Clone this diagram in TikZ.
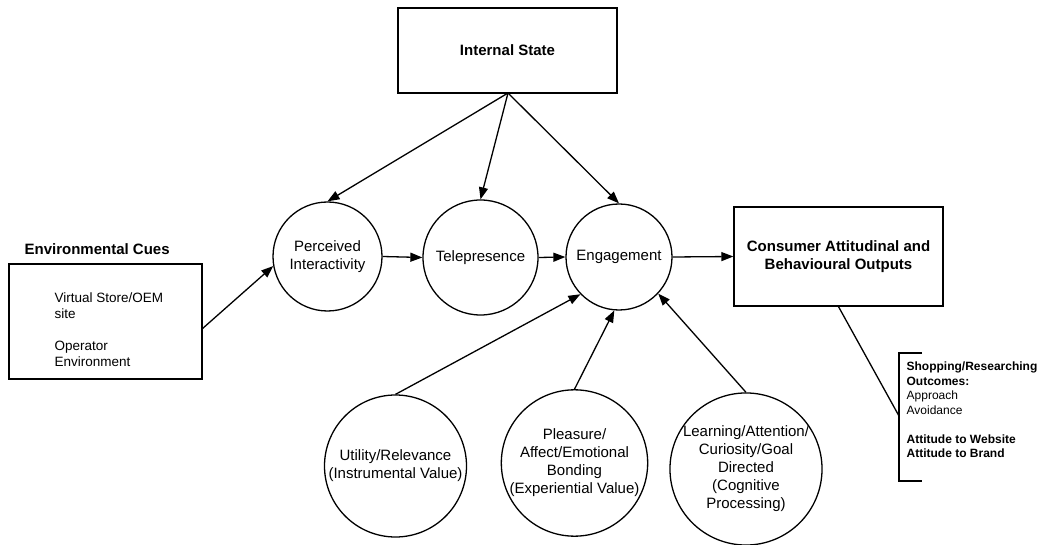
\documentclass[tikz,border=0pt]{standalone}
\usepackage{fontspec}
\setmainfont{Liberation Sans}
\usetikzlibrary{arrows.meta}
\begin{document}
\begin{tikzpicture}[x=1pt,y=-1pt,
  line width=1.3pt,
  fbig/.style={font=\fontsize{15}{18}\selectfont},
  box/.style={draw,rectangle,inner sep=0pt,fbig,align=center},
  circ/.style={draw,circle,inner sep=0pt,fbig,align=center},
  arr/.style={-{Triangle[length=12pt,width=9pt]}}
]
\useasboundingbox (0,0) rectangle (1042,545);
% boxes
\node[box,minimum width=219pt,minimum height=85pt] (int) at (507.5,50.5) {\bfseries Internal State};
\node[box,minimum width=209pt,minimum height=99pt] (cons) at (838.5,256.5) {\bfseries Consumer Attitudinal and\\\bfseries Behavioural Outputs};
\node[box,minimum width=193pt,minimum height=115pt] (env) at (105.5,321.5) {};
\node[fbig,anchor=west,inner sep=0pt] (envt) at (24,249) {\bfseries Environmental Cues};
\node[anchor=west,inner sep=0pt,align=left,font=\fontsize{13.5}{16}\selectfont] (envin) at (54,330) {Virtual Store/OEM\\site\\[16pt]Operator\\Environment};
% circles
\node[circ,minimum size=109pt] (per) at (327.5,256.5) {Perceived\\Interactivity};
\node[circ,minimum size=115pt] (tel) at (480.5,257.5) {Telepresence};
\node[circ,minimum size=106pt] (eng) at (619,257) {Engagement};
\node[circ,minimum size=142pt] (uti) at (395.5,466) {Utility/Relevance\\(Instrumental Value)};
\node[circ,minimum size=145pt] (ple) at (574.5,463) {Pleasure/\\Affect/Emotional\\Bonding\\(Experiential Value)};
\node[circ,minimum size=152pt] (lea) at (746,469) {Learning/Attention/\\Curiosity/Goal\\Directed\\(Cognitive\\Processing)};
% arrows from internal state
\coordinate (intb) at (508,93);
\draw[arr] (intb) -- (per.north);
\draw[arr] (intb) -- (tel.north);
\draw[arr] (intb) -- (eng.north);
% chain
\draw[arr] (per.east) -- (tel.west);
\draw[arr] (tel.east) -- (eng.west);
\draw[arr] (eng.east) -- (cons.west);
% env arrow
\coordinate (envr) at (202,329);
\draw[arr] (envr) -- (per.190);
% bottom arrows
\draw[arr] (uti.north) -- (eng.224);
\draw[arr] (ple.north) -- (eng.-95);
\draw[arr] (lea.north) -- (eng.-43);
% bracket
\coordinate (brk) at (899,416);
\draw (cons.south) -- (brk);
\draw (922,353) -- (899,353) -- (899,481) -- (922,481);
\node[anchor=west,inner sep=0pt,align=left,font=\fontsize{12}{14.5}\selectfont] (outs) at (906,410) {\bfseries Shopping/Researching\\\bfseries Outcomes:\\Approach\\Avoidance\\[14.5pt]\bfseries Attitude to Website\\\bfseries Attitude to Brand};
\end{tikzpicture}
\end{document}
